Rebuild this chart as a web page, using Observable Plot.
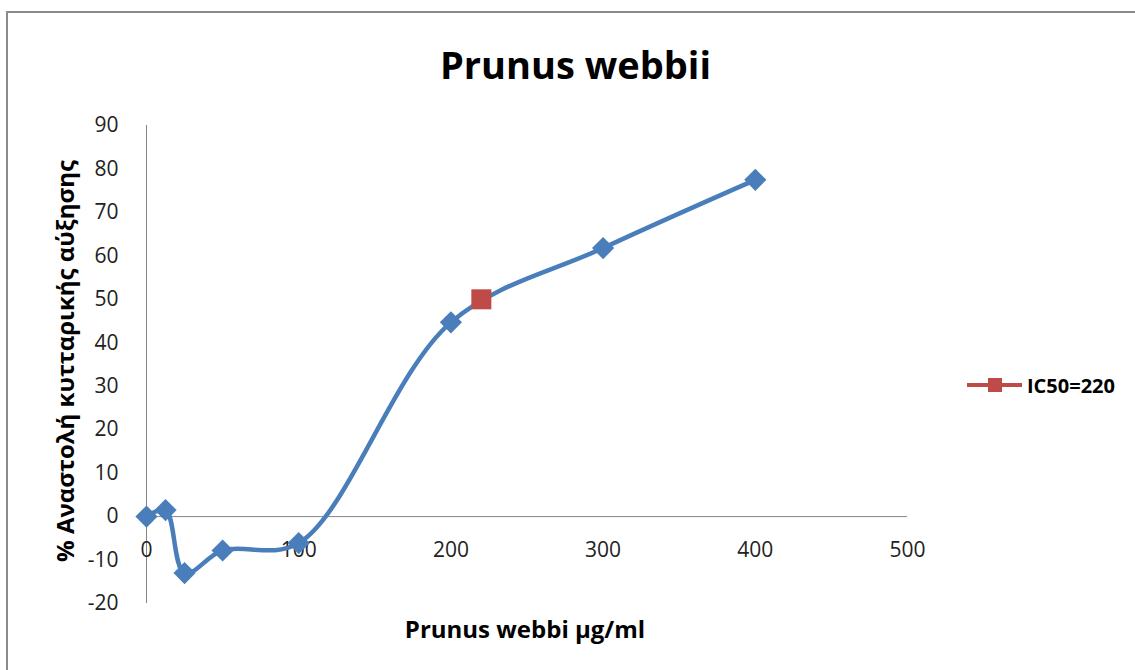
<!DOCTYPE html>
<html>
<head>
<meta charset="utf-8">
<script src="https://cdn.jsdelivr.net/npm/d3@7"></script>
<script src="https://cdn.jsdelivr.net/npm/@observablehq/plot@0.6"></script>
<style>
  html, body { margin: 0; padding: 0; background: #fff; }
  #wrap { position: relative; width: 1135px; height: 670px; overflow: hidden; font-family: "Open Sans", sans-serif; }
  #wrap svg { position: absolute; left: 0; top: 0; }
  .border-top { position: absolute; left: 6px; top: 11px; width: 1129px; height: 2px; background: #8a8a8a; }
  .border-left { position: absolute; left: 6px; top: 11px; width: 2px; height: 659px; background: #8a8a8a; }
  .title { position: absolute; left: 0; width: 1151px; top: 38px; text-align: center; font-weight: bold; font-size: 38px; color: #000; line-height: 52px; }
  .xlabel { position: absolute; left: 325px; width: 400px; top: 613px; text-align: center; font-weight: bold; font-size: 24px; color: #000; line-height: 32px; }
  .ylabel { position: absolute; left: 64px; top: 361px; transform: translate(-50%, -50%) rotate(-90deg); white-space: nowrap; font-weight: bold; font-size: 24px; color: #000; }
  .legend { position: absolute; left: 967px; top: 372px; height: 26px; display: flex; align-items: center; }
  .legend .sw { position: relative; width: 55px; height: 26px; margin-right: 5px; }
  .legend .sw .ln { position: absolute; left: 0; top: 11px; width: 55px; height: 4px; background: #BE4B48; }
  .legend .sw .sq { position: absolute; left: 21px; top: 6px; width: 14px; height: 14px; background: #BE4B48; }
  .legend .tx { font-weight: bold; font-size: 20px; color: #000; }
</style>
</head>
<body>
<div id="wrap">
  <div class="border-top"></div>
  <div class="border-left"></div>
</div>
<script>
// ---- data ----
const concentrations = [0, 12.5, 25, 50, 100, 200, 300, 400];
const inhibition = [0, 1.5, -13, -7.8, -6.1, 44.7, 61.8, 77.5];
const ic50X = [220];
const ic50Y = [50];
const xTicks = [0, 100, 200, 300, 400, 500];
const yTicks = [-20, -10, 0, 10, 20, 30, 40, 50, 60, 70, 80, 90];
const titleText = "Prunus webbii";
const xLabelText = "Prunus webbi μg/ml";
const yLabelText = "% Αναστολή κυτταρικής αύξησης";
const legendText = "IC50=220";

const series = concentrations.map((c, i) => ({x: c, y: inhibition[i]}));
const ic50 = ic50X.map((c, i) => ({x: c, y: ic50Y[i]}));

const blue = "#4A7EBB";
const red = "#BE4B48";

const chart = Plot.plot({
  width: 1135,
  height: 670,
  marginLeft: 146,
  marginRight: 228,
  marginTop: 125,
  marginBottom: 67,
  style: {fontFamily: "Open Sans, sans-serif", fontSize: "21px", color: "#222", background: "transparent", overflow: "visible"},
  x: {domain: [0, 500], axis: null},
  y: {domain: [-20, 90], axis: null},
  marks: [
    Plot.ruleX([0], {stroke: "#868686", strokeWidth: 1}),
    Plot.ruleY([0], {stroke: "#868686", strokeWidth: 1}),
    Plot.axisY(yTicks, {tickSize: 0, tickPadding: 28, fontSize: 21, fill: "#222", label: null, tickFormat: d => String(d)}),
    Plot.text(xTicks, {x: d => d, y: 0, dy: 34, text: d => String(d), fontSize: 21, fill: "#222", textAnchor: "middle", lineAnchor: "middle"}),
    Plot.line(series, {x: "x", y: "y", stroke: blue, strokeWidth: 4.5, curve: "catmull-rom"}),
    Plot.dot(series, {x: "x", y: "y", symbol: "diamond2", r: 10, fill: blue, stroke: "none"}),
    Plot.dot(ic50, {x: "x", y: "y", symbol: "square", r: 11.3, fill: red, stroke: "none"})
  ]
});

const wrap = document.getElementById("wrap");
wrap.appendChild(chart);

function addDiv(cls, text) {
  const d = document.createElement("div");
  d.className = cls;
  d.textContent = text;
  wrap.appendChild(d);
  return d;
}
addDiv("title", titleText);
addDiv("xlabel", xLabelText);
addDiv("ylabel", yLabelText);
const lg = document.createElement("div");
lg.className = "legend";
lg.innerHTML = '<div class="sw"><div class="ln"></div><div class="sq"></div></div>';
const lt = document.createElement("span");
lt.className = "tx";
lt.textContent = legendText;
lg.appendChild(lt);
wrap.appendChild(lg);
</script>
</body>
</html>
